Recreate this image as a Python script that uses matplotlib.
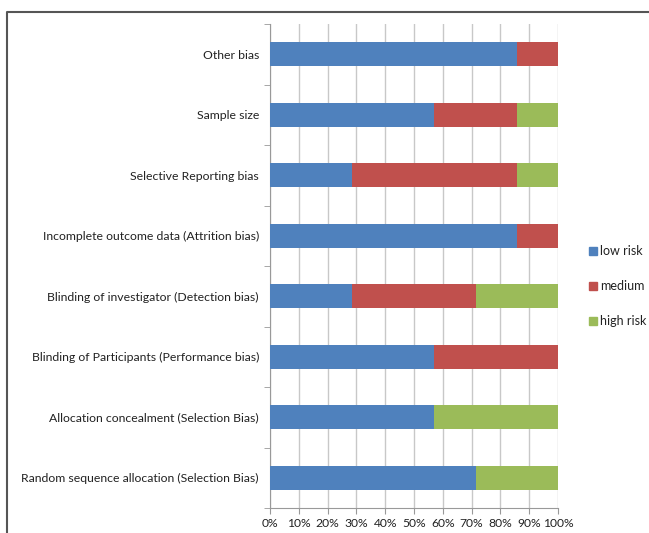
import matplotlib
matplotlib.use("Agg")
import matplotlib.pyplot as plt
from matplotlib.lines import Line2D
import numpy as np

categories = [
    "Random sequence allocation (Selection Bias)",
    "Allocation concealment (Selection Bias)",
    "Blinding of Participants (Performance bias)",
    "Blinding of investigator (Detection bias)",
    "Incomplete outcome data (Attrition bias)",
    "Selective Reporting bias",
    "Sample size",
    "Other bias",
]
low_risk = [71.4, 57.1, 57.1, 28.6, 85.7, 28.6, 57.1, 85.7]
medium = [0.0, 0.0, 42.9, 42.9, 14.3, 57.1, 28.6, 14.3]
high_risk = [28.6, 42.9, 0.0, 28.5, 0.0, 14.3, 14.3, 0.0]
series_names = ["low risk", "medium", "high risk"]
xtick_labels = ["0%", "10%", "20%", "30%", "40%", "50%", "60%", "70%", "80%", "90%", "100%"]

colors = ["#4F81BD", "#C0504D", "#9BBB59"]

plt.rcParams['font.family'] = ['Lato', 'DejaVu Sans']
plt.rcParams['text.color'] = '#222222'
plt.rcParams['xtick.labelcolor'] = '#222222'
plt.rcParams['ytick.labelcolor'] = '#222222'

W, H = 649, 533
fig = plt.figure(figsize=(W / 100, H / 100), dpi=100)
ax = fig.add_axes([270 / W, 1 - 508 / H, (558 - 270) / W, (508 - 24) / H])

y = np.arange(len(categories))
left = np.zeros(len(categories))
for vals, c, name in zip([low_risk, medium, high_risk], colors, series_names):
    ax.barh(y, vals, left=left, height=0.4, color=c, label=name, zorder=3)
    left = left + np.array(vals)

ax.set_xlim(0, 100)
ax.set_ylim(-0.5, len(categories) - 0.5)
ax.set_xticks(np.arange(0, 101, 10))
ax.set_xticklabels(xtick_labels, fontsize=8.7)
ax.set_yticks(y)
ax.set_yticklabels(categories, fontsize=8.8)
ax.tick_params(axis='y', length=0, pad=8)
ax.set_yticks(np.arange(-0.5, len(categories), 1), minor=True)
ax.tick_params(axis='y', which='minor', length=4, color='#999999', direction='out')
ax.tick_params(axis='x', length=4, color='#999999', direction='out', pad=3)
ax.grid(axis='x', color='#C8C8C8', linewidth=1, zorder=0)
for s in ['top', 'right']:
    ax.spines[s].set_visible(False)
for s in ['left', 'bottom']:
    ax.spines[s].set_color('#999999')

handles = [Line2D([0], [0], marker='s', linestyle='none', markersize=6,
                  markerfacecolor=c, markeredgecolor=c) for c in colors]
leg = fig.legend(handles, series_names, loc='center left',
                 bbox_to_anchor=(575 / W, 1 - 286 / H), frameon=False,
                 fontsize=9, labelspacing=1.85, handletextpad=0.1,
                 handlelength=1.0)

# outer frame
fig.add_artist(Line2D([7 / W, 7 / W, 1.0], [0.0, 1 - 12 / H, 1 - 12 / H],
                      transform=fig.transFigure, color='#555555', linewidth=1.5))

fig.savefig("out.png", dpi=100)
